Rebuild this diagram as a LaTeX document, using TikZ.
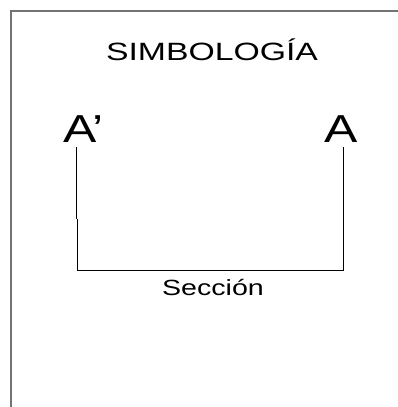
\documentclass[tikz,border=0pt]{standalone}
\usepackage{fontspec}
\setmainfont{Liberation Sans}
\begin{document}
\begin{tikzpicture}[x=1pt,y=-1pt,
  lbl/.style={inner sep=0pt,outer sep=0pt},
  frameline/.style={draw=black!55,line width=1.5pt},
  bracket/.style={draw=black,line width=1pt}]
\useasboundingbox (0,0) rectangle (398,407);
\fill[white] (0,0) rectangle (398,407);
% frame
\coordinate (ftr) at (398,11);
\coordinate (ftl) at (11,11);
\coordinate (fbl) at (11,407);
\draw[frameline] (ftr) -- (ftl) -- (fbl);
% title
\node[lbl,anchor=base,font=\fontsize{25}{25}\selectfont] (title) at (212,60) {\scalebox{1.35}[1]{SIMBOLOGÍA}};
% labels
\node[lbl,anchor=base west,font=\fontsize{39}{39}\selectfont] (ap) at (63,142) {\scalebox{1.28}[1]{A’}};
\node[lbl,anchor=base,font=\fontsize{39}{39}\selectfont] (a) at (341,142) {\scalebox{1.28}[1]{A}};
% bracket
\coordinate (lt) at (76.5,147);
\coordinate (lm) at (76.5,219);
\coordinate (lm2) at (77.5,219);
\coordinate (lb) at (77.5,270);
\coordinate (rb) at (343,270);
\coordinate (rt) at (343,147);
\draw[bracket] (lt) -- (lm);
\draw[bracket] (lm2) -- (lb) -- (rb) -- (rt);
\node[lbl,anchor=base,font=\fontsize{22}{22}\selectfont] (sec) at (213,295) {\scalebox{1.3}[1]{Sección}};
\end{tikzpicture}
\end{document}
